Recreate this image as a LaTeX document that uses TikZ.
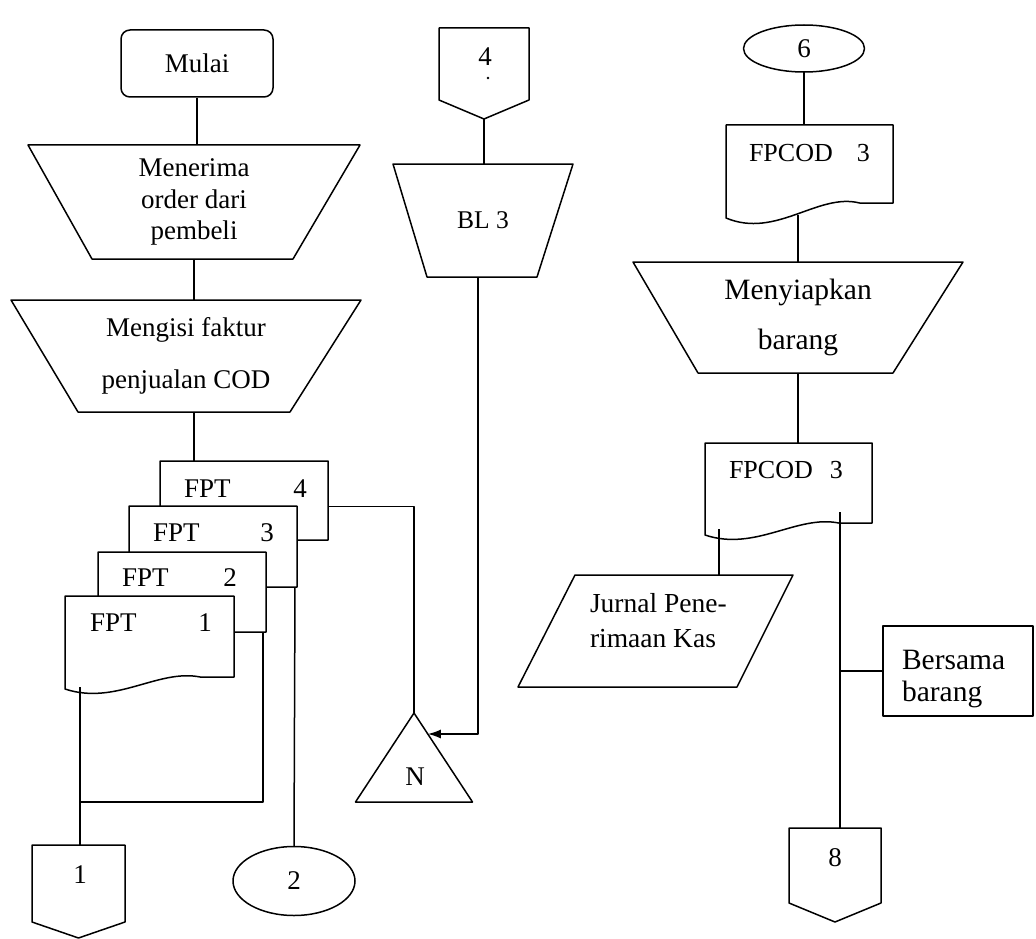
\documentclass[tikz,border=0pt]{standalone}
\usepackage{fontspec}
\setmainfont{Liberation Serif}
\usetikzlibrary{calc,arrows.meta,shapes.geometric}

% document symbol: straight top and sides, wavy bottom edge
\newcommand\docshape[2]{%
  \draw[fill=white] (#1.south east) -- (#1.north east) -- (#1.north west)
    -- ($(#1.south west)+(0,#2)$)
    .. controls ($(#1.south west)!0.3!(#1.south east)+(0,{2.4*#2})$)
       and ($(#1.south west)!0.55!(#1.south east)+(0,{-0.7*#2})$)
    .. ($(#1.south west)!0.8!(#1.south east)$) -- cycle;}

% off-page connector: box with a pointed bottom
\newcommand\pageconn[2]{%
  \draw (#1.north west) -- (#1.north east) -- ($(#1.south east)+(0,-#2)$)
    -- (#1.south) -- ($(#1.south west)+(0,-#2)$) -- cycle;}

\begin{document}
\begin{tikzpicture}[x=1pt,y=-1pt,line width=1.5pt,line join=round,
  font=\fontsize{27}{32}\selectfont,
  bx/.style 2 args={draw=none,inner sep=0pt,outer sep=0pt,minimum width=#1,minimum height=#2},
  lbl/.style={inner sep=0pt,outer sep=0pt},
  term/.style={draw,rounded corners=9pt,inner sep=0pt,minimum width=152pt,minimum height=67pt},
  oval/.style 2 args={draw,ellipse,inner sep=0pt,outer sep=0pt,minimum width=#1,minimum height=#2},
  flow/.style={-{Latex[length=13pt,width=9pt]}}]

\useasboundingbox (0,0) rectangle (1036,939);

% ---------- left column: order entry ----------
\node[term] (mulai) at (197,63.5) {Mulai};

\node[bx={332}{114},align=center,font=\fontsize{27}{31.5}\selectfont] (menerima) at (194,202)
  {Menerima\\order dari\\pembeli};
\draw (menerima.north west) -- (menerima.north east) -- ($(menerima.south east)+(-67,0)$)
  -- ($(menerima.south west)+(64,0)$) -- cycle;

\node[bx={350}{112},align=center,font=\fontsize{27}{52}\selectfont] (mengisi) at (186,356)
  {Mengisi faktur\\penjualan COD};
\draw (mengisi.north west) -- (mengisi.north east) -- ($(mengisi.south east)+(-71,0)$)
  -- ($(mengisi.south west)+(67,0)$) -- cycle;

\draw (mulai.south) -- (mulai.south |- menerima.north);
\draw (menerima.south) -- (menerima.south |- mengisi.north);

% stack of four invoice copies
\node[bx={168}{79}] (fpt4) at (244,500.5) {};
\node[bx={168}{81}] (fpt3) at (213,546.5) {};
\node[bx={168}{80}] (fpt2) at (182,592) {};
\node[bx={169}{81}] (fpt1) at (149.5,636.5) {};
\docshape{fpt4}{12}
\docshape{fpt3}{12}
\docshape{fpt2}{12}
\docshape{fpt1}{12}
\node[lbl,anchor=west] (fpt4t) at (184,489) {\makebox[123pt]{FPT\hfill4}};
\node[lbl,anchor=west] (fpt3t) at (153,533) {\makebox[121pt]{FPT\hfill3}};
\node[lbl,anchor=west] (fpt2t) at (122,578) {\makebox[115pt]{FPT\hfill2}};
\node[lbl,anchor=west] (fpt1t) at (90,623) {\makebox[122pt]{FPT\hfill1}};

\draw (menerima.south |- mengisi.south) -- (menerima.south |- fpt4.north);

% connectors leaving the stack
\node[bx={93}{93}] (p1) at (78.5,891.5) {};
\pageconn{p1}{16}
\node[lbl] (p1t) at (80,875) {1};

\node[oval={122}{69}] (c2) at (294,881) {2};

\coordinate (f1out) at ($(fpt1.south west)+(15,10)$);
\coordinate (j1) at ($(f1out)+(0,115)$);
\draw (f1out) -- (f1out |- p1.north);
\draw ($(fpt2.south east)+(-3,0)$) |- (j1);
\draw ($(fpt3.south east)+(-2,0)$) -- (c2.north);

% ---------- middle column ----------
\node[bx={90}{91}] (p4) at (484,73.5) {};
\pageconn{p4}{19}
\node[lbl] (p4t) at (485,57) {4};
\fill (488,78) circle (1.3pt);

\node[bx={180}{113},font=\fontsize{25.5}{30}\selectfont] (bl3) at (483,220.5) {BL 3};
\draw (bl3.north west) -- (bl3.north east) -- ($(bl3.south east)+(-36,0)$)
  -- ($(bl3.south west)+(34,0)$) -- cycle;
\draw (p4.south) -- (p4.south |- bl3.north);

\node[bx={117}{89}] (ntri) at (414,757.5) {};
\draw (ntri.north) -- (ntri.south east) -- (ntri.south west) -- cycle;
\node[lbl] (ntxt) at (415,777) {N};

\coordinate (nin) at ($(ntri.north)!0.236!(ntri.south east)$);
\draw ($(fpt4.east)+(0,6)$) -| (ntri.north);
\draw[flow] ($(bl3.south)+(-5,0)$) |- (nin);

% ---------- right column: goods preparation ----------
\node[oval={121}{47}] (c6) at (804,48.5) {6};

\node[bx={167}{78}] (fpcod1) at (809.5,164) {};
\docshape{fpcod1}{15}
\node[lbl,anchor=west,font=\fontsize{26}{30}\selectfont] (fpcod1t) at (749,153) {\makebox[121pt]{FPCOD\hfill3}};
\draw (c6.south) -- (c6.south |- fpcod1.north);

\node[bx={330}{111},align=center,font=\fontsize{29.5}{50}\selectfont] (menyiapkan) at (798,317.5)
  {Menyiapkan\\barang};
\draw (menyiapkan.north west) -- (menyiapkan.north east) -- ($(menyiapkan.south east)+(-70,0)$)
  -- ($(menyiapkan.south west)+(65,0)$) -- cycle;
\coordinate (d1out) at ($(menyiapkan.north |- fpcod1.south)+(0,12)$);
\draw (d1out) -- (menyiapkan.north);

\node[bx={167}{80}] (fpcod2) at (788.5,483) {};
\docshape{fpcod2}{12}
\node[lbl,anchor=west,font=\fontsize{26}{30}\selectfont] (fpcod2t) at (729,470) {\makebox[114pt]{FPCOD\hfill3}};
\draw (menyiapkan.south) -- (menyiapkan.south |- fpcod2.north);

\node[bx={275}{112}] (jurnal) at (655.5,631) {};
\draw ($(jurnal.north west)+(57,0)$) -- (jurnal.north east) -- ($(jurnal.south east)+(-56,0)$)
  -- (jurnal.south west) -- cycle;
\node[lbl,anchor=west,align=left,font=\fontsize{27.5}{35}\selectfont] (jurnalt) at (590,620.5)
  {Jurnal Pene-\\rimaan Kas};

\coordinate (d2a) at ($(fpcod2.south west)+(14,6)$);
\draw (d2a) -- (d2a |- jurnal.north);

\node[bx={92}{94}] (p8) at (835,875) {};
\pageconn{p8}{19}
\node[lbl] (p8t) at (835,858) {8};

\node[bx={150}{90},draw] (bersama) at (958,671) {};
\node[lbl,anchor=west,align=left,font=\fontsize{29.5}{32}\selectfont] (bersamat) at (902,679)
  {Bersama\\barang};

\coordinate (d2b) at ($(fpcod2.south east)+(-32,-11)$);
\draw (d2b) -- (d2b |- p8.north);
\draw (bersama.west) -- (bersama.west -| d2b);

\end{tikzpicture}
\end{document}
